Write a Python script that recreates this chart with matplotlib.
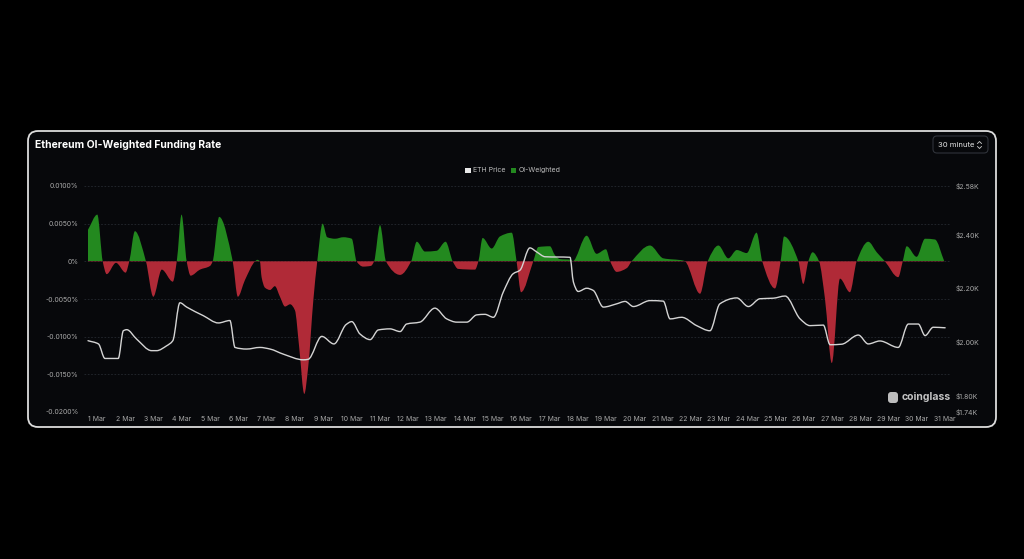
import numpy as np
import matplotlib
matplotlib.use("Agg")
import matplotlib.pyplot as plt
from matplotlib.path import Path
from matplotlib.patches import PathPatch, Rectangle, FancyBboxPatch

plt.rcParams['font.family'] = ['Inter', 'DejaVu Sans']

# ---------------- data ----------------
# time in days since 1 Mar 00:00, funding rate in %
fund_t = [0.00, 0.33, 0.52, 0.66, 0.99, 1.33, 1.46, 1.66, 2.05, 2.31, 2.61, 3.00, 3.14,
          3.31, 3.49, 3.63, 3.96, 4.32, 4.41, 4.64, 5.12, 5.30, 5.55, 5.91, 5.99, 6.08,
          6.14, 6.26, 6.44, 6.61, 6.79, 6.97, 7.15, 7.32, 7.47, 7.65, 7.79, 7.97, 8.11,
          8.30, 8.46, 8.74, 9.03, 9.33, 9.50, 9.73, 10.01, 10.12, 10.33, 10.54, 11.04,
          11.43, 11.63, 11.92, 12.33, 12.65, 12.90, 13.09, 13.69, 13.81, 13.96, 14.28,
          14.57, 14.99, 15.16, 15.32, 15.75, 15.93, 16.34, 16.52, 16.69, 17.10, 17.14,
          17.64, 17.99, 18.32, 18.47, 18.70, 19.06, 19.23, 19.88, 20.35, 21.06, 21.12,
          21.65, 21.92, 22.30, 22.65, 22.95, 23.30, 23.65, 23.85, 24.30, 24.50, 24.62,
          25.13, 25.30, 25.48, 25.63, 25.86, 26.07, 26.31, 26.60, 26.95, 27.19, 27.60,
          27.90, 28.19, 28.66, 28.82, 28.96, 29.31, 29.61, 29.96, 30.29]
fund_v = [0.0042, 0.0062, 0.0, -0.0017, -0.0002, -0.0015, 0.0, 0.0040, 0.0, -0.0047,
          -0.0011, -0.0027, 0.0, 0.0062, 0.0, -0.0019, -0.0011, -0.0006, 0.0, 0.0059,
          0.0, -0.0047, -0.0025, 0.0, 0.0002, 0.0, -0.0021, -0.0035, -0.0038, -0.0033,
          -0.0047, -0.0060, -0.0057, -0.0065, -0.0114, -0.0176, -0.0140, -0.0052, 0.0,
          0.0050, 0.0032, 0.0030, 0.0032, 0.0030, 0.0, -0.0007, -0.0006, 0.0, 0.0048,
          0.0, -0.0018, 0.0, 0.0026, 0.0013, 0.0014, 0.0026, 0.0, -0.0010, -0.0011, 0.0,
          0.0031, 0.0017, 0.0033, 0.0038, 0.0, -0.0041, 0.0, 0.0019, 0.0020, 0.0008,
          0.0003, 0.0002, 0.0, 0.0034, 0.0010, 0.0016, 0.0, -0.0014, -0.0009, 0.0,
          0.0021, 0.0004, 0.0001, 0.0, -0.0043, 0.0, 0.0021, 0.0004, 0.0015, 0.0011,
          0.0038, 0.0, -0.0036, 0.0, 0.0033, 0.0, -0.0030, 0.0, 0.0012, 0.0, -0.0050,
          -0.0135, -0.0023, -0.0041, 0.0, 0.0026, 0.0012, 0.0, -0.0021, 0.0, 0.0020,
          0.0006, 0.0030, 0.0029, 0.0]

# ETH price in thousands of USD
price_t = [0.00, 0.37, 0.60, 1.07, 1.25, 1.37, 1.72, 2.25, 2.43, 2.78, 3.00, 3.25, 3.49,
           4.08, 4.61, 5.02, 5.20, 5.61, 6.08, 6.44, 6.91, 7.62, 7.79, 8.27, 8.70, 9.13,
           9.33, 9.62, 9.98, 10.27, 10.68, 11.04, 11.27, 11.74, 12.27, 12.69, 13.04,
           13.40, 13.75, 14.04, 14.34, 14.69, 15.04, 15.28, 15.63, 15.87, 16.17, 17.05,
           17.17, 17.34, 17.64, 17.87, 18.23, 18.70, 19.00, 19.29, 19.88, 20.35, 20.59,
           21.00, 21.53, 22.00, 22.35, 22.95, 23.36, 23.77, 24.24, 24.66, 25.19, 25.54,
           26.01, 26.25, 26.66, 27.25, 27.60, 28.01, 28.66, 29.02, 29.37, 29.61, 29.90,
           30.32]
price_v = [2.005, 1.993, 1.939, 1.939, 2.042, 2.046, 2.011, 1.968, 1.968, 1.986, 2.005,
           2.146, 2.130, 2.098, 2.071, 2.080, 1.980, 1.974, 1.980, 1.974, 1.955, 1.934,
           1.936, 2.021, 1.993, 2.065, 2.076, 2.030, 2.009, 2.045, 2.049, 2.039, 2.067,
           2.074, 2.126, 2.086, 2.074, 2.074, 2.101, 2.103, 2.092, 2.186, 2.254, 2.267,
           2.350, 2.335, 2.317, 2.315, 2.223, 2.188, 2.200, 2.192, 2.130, 2.142, 2.151,
           2.132, 2.154, 2.152, 2.086, 2.092, 2.061, 2.042, 2.142, 2.164, 2.132, 2.161,
           2.163, 2.171, 2.086, 2.061, 2.063, 1.990, 1.992, 2.026, 1.993, 2.004, 1.980,
           2.067, 2.067, 2.024, 2.055, 2.053]

date_labels = ["%d Mar" % d for d in range(1, 32)]
left_ticks = [0.01, 0.005, 0.0, -0.005, -0.01, -0.015, -0.02]
left_labels = ["0.0100%", "0.0050%", "0%", "-0.0050%", "-0.0100%", "-0.0150%", "-0.0200%"]
right_ticks = [2.58, 2.40, 2.20, 2.00, 1.80, 1.74]
right_labels = ["$2.58K", "$2.40K", "$2.20K", "$2.00K", "$1.80K", "$1.74K"]

GREEN = "#23891f"
RED = "#b02a37"
CARD = "#07080b"
TXT = "#a8a8a8"

W, H = 1024, 559


def slopes(x, y):
    x = np.asarray(x, float)
    y = np.asarray(y, float)
    h = np.diff(x)
    d = np.diff(y) / h
    m = np.zeros_like(y)
    m[0] = d[0]
    m[-1] = d[-1]
    for i in range(1, len(y) - 1):
        if d[i - 1] * d[i] <= 0:
            m[i] = 0.0
        else:
            w1 = 2 * h[i] + h[i - 1]
            w2 = h[i] + 2 * h[i - 1]
            m[i] = (w1 + w2) / (w1 / d[i - 1] + w2 / d[i])
    return m


def smooth_verts(x, y):
    m = slopes(x, y)
    verts = [(x[0], y[0])]
    for i in range(len(x) - 1):
        h = x[i + 1] - x[i]
        verts += [(x[i] + h / 3, y[i] + m[i] * h / 3),
                  (x[i + 1] - h / 3, y[i + 1] - m[i + 1] * h / 3),
                  (x[i + 1], y[i + 1])]
    codes = [Path.MOVETO] + [Path.CURVE4] * (3 * (len(x) - 1))
    return verts, codes


def fx(px):
    return px / W


def fy(py):
    return (H - py) / H


fig = plt.figure(figsize=(W / 100, H / 100), dpi=100, facecolor="black")

# card
card = FancyBboxPatch((0.28, (H - 427) / 100), 9.68, 2.96,
                      boxstyle="round,pad=0,rounding_size=0.1",
                      transform=fig.dpi_scale_trans, facecolor=CARD,
                      edgecolor="#dcdcdc", linewidth=1.3, zorder=-10)
fig.add_artist(card)

# axes: pixel x 84..950, y 186..412
ax_l, ax_r, ax_t, ax_b = 84, 950, 186, 412
ax = fig.add_axes([fx(ax_l), fy(ax_b), (ax_r - ax_l) / W, (ax_b - ax_t) / H])
ax.set_facecolor("none")
ppd = 28.27
x0 = (ax_l - 88) / ppd
x1 = (ax_r - 88) / ppd
ax.set_xlim(x0, x1)
ax.set_ylim(-0.02, 0.01)
for s in ax.spines.values():
    s.set_visible(False)

for v in left_ticks:
    ax.axhline(v, color="#262a31", lw=0.6, ls=(0, (2, 2)), zorder=0)

ax.set_yticks(left_ticks)
ax.set_yticklabels(left_labels)
ax.tick_params(axis="y", length=0, pad=4, labelsize=5, labelcolor=TXT)
ax.set_xticks([0.32 + i for i in range(31)])
ax.set_xticklabels(date_labels)
ax.tick_params(axis="x", length=0, pad=3, labelsize=5, labelcolor=TXT)

# funding fill
verts, codes = smooth_verts(fund_t, fund_v)
fverts = [(fund_t[0], 0.0)] + verts + [(fund_t[-1], 0.0), (fund_t[0], 0.0)]
fcodes = [Path.MOVETO, Path.LINETO] + codes[1:] + [Path.LINETO, Path.CLOSEPOLY]
fpath = Path(fverts, fcodes)
for color, rect in ((GREEN, (x0 - 1, 0.0, 40, 1.0)), (RED, (x0 - 1, -1.0, 40, 1.0))):
    p = PathPatch(fpath, facecolor=color, edgecolor="none", zorder=2)
    ax.add_patch(p)
    clip = Rectangle(rect[:2], rect[2], rect[3], transform=ax.transData)
    p.set_clip_path(clip)

# price line
ax2 = ax.twinx()
ax2.set_ylim(1.74, 2.58)
for s in ax2.spines.values():
    s.set_visible(False)
ax2.set_yticks(right_ticks)
ax2.set_yticklabels(right_labels)
ax2.tick_params(axis="y", length=0, pad=4, labelsize=5, labelcolor=TXT)
pv, pc = smooth_verts(price_t, price_v)
ax2.add_patch(PathPatch(Path(pv, pc), facecolor="none", edgecolor="#d4d4d4",
                        lw=1.0, zorder=3, capstyle="round", joinstyle="round"))

# title
fig.text(fx(35), fy(145.5), "Ethereum OI-Weighted Funding Rate", color="white",
         fontsize=7.5, fontweight="bold", va="center", ha="left")

# interval selector
sel = FancyBboxPatch((9.33, (H - 153) / 100), 0.55, 0.17,
                     boxstyle="round,pad=0,rounding_size=0.04",
                     transform=fig.dpi_scale_trans, facecolor=CARD,
                     edgecolor="#30333a", linewidth=0.8)
fig.add_artist(sel)
fig.text(fx(938), fy(145), "30 minute", color="#e6e6e6", fontsize=5.5,
         va="center", ha="left")
fig.add_artist(plt.Line2D([fx(977.5), fx(979.5), fx(981.5)], [fy(143.5), fy(141.5), fy(143.5)],
                          color="#cfcfcf", lw=0.6))
fig.add_artist(plt.Line2D([fx(977.5), fx(979.5), fx(981.5)], [fy(146.5), fy(148.5), fy(146.5)],
                          color="#cfcfcf", lw=0.6))

# legend
fig.add_artist(Rectangle((fx(465), fy(173)), 5.5 / W, 5.5 / H, transform=fig.transFigure,
                         facecolor="#e8e8e8", edgecolor="none"))
fig.text(fx(473), fy(170), "ETH Price", color="#bdbdbd", fontsize=5, va="center", ha="left")
fig.add_artist(Rectangle((fx(510.5), fy(173)), 5.5 / W, 5.5 / H, transform=fig.transFigure,
                         facecolor=GREEN, edgecolor="none"))
fig.text(fx(519), fy(170), "OI-Weighted", color="#bdbdbd", fontsize=5, va="center", ha="left")

# watermark
icon = FancyBboxPatch((8.88, (H - 403) / 100), 0.1, 0.11,
                      boxstyle="round,pad=0,rounding_size=0.03",
                      transform=fig.dpi_scale_trans, facecolor="#bdbdbd",
                      edgecolor="none")
fig.add_artist(icon)
fig.text(fx(902), fy(397), "coinglass", color="#c4c4c4", fontsize=7.5,
         fontweight="bold", va="center", ha="left")

fig.savefig("out.png", dpi=100, facecolor="black")
